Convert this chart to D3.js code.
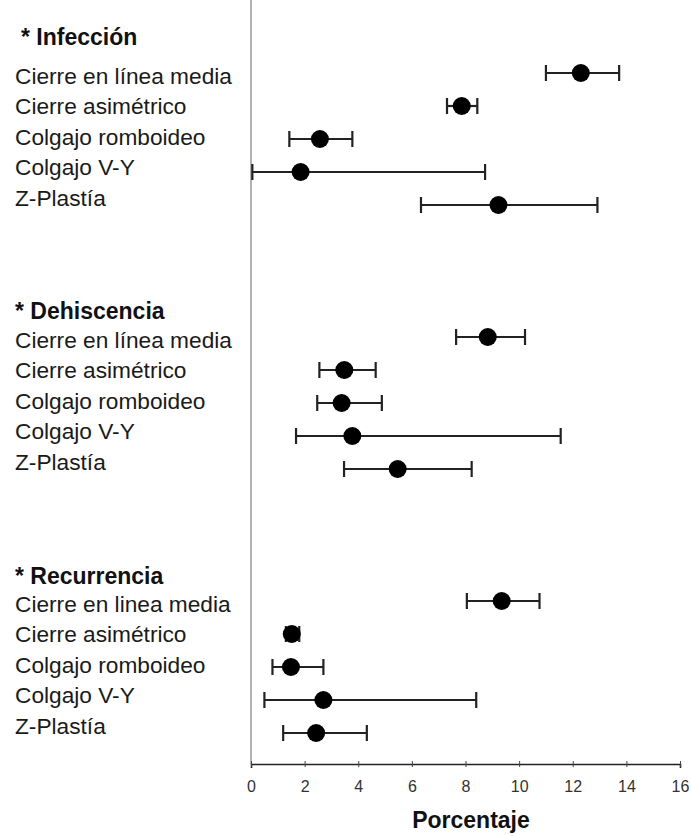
<!DOCTYPE html>
<html><head><meta charset="utf-8">
<script src="https://cdn.jsdelivr.net/npm/d3@7"></script>
<style>body{margin:0;background:#fff}svg{display:block}</style>
</head><body>
<script>
const groups = ["Infección", "Dehiscencia", "Recurrencia"];
const techniques = ["Cierre en línea media", "Cierre asimétrico", "Colgajo romboideo", "Colgajo V-Y", "Z-Plastía"];
const techniquesRec = ["Cierre en linea media", "Cierre asimétrico", "Colgajo romboideo", "Colgajo V-Y", "Z-Plastía"];
// point estimates and interval bounds (percentage)
const infeccionMean = [12.3, 7.86, 2.57, 1.85, 9.23];
const infeccionLow  = [11.0, 7.31, 1.43, 0.05, 6.34];
const infeccionHigh = [13.73, 8.44, 3.78, 8.73, 12.92];
const dehiscMean = [8.83, 3.48, 3.38, 3.78, 5.47];
const dehiscLow  = [7.65, 2.55, 2.47, 1.68, 3.47];
const dehiscHigh = [10.22, 4.65, 4.88, 11.55, 8.23];
const recurMean = [9.35, 1.52, 1.49, 2.7, 2.43];
const recurLow  = [8.05, 1.3, 0.8, 0.5, 1.2];
const recurHigh = [10.76, 1.8, 2.7, 8.4, 4.32];
const xTicks = [0, 2, 4, 6, 8, 10, 12, 14, 16];
const xTitle = "Porcentaje";

const W = 691, H = 836;
const svg = d3.select("body").append("svg").attr("width", W).attr("height", H)
  .style("font-family", "'Liberation Sans', Arial, sans-serif");

const x = d3.scaleLinear().domain([0, 16]).range([251, 680]);
// row index: group g, item i -> g*8 + i
const y = d3.scaleLinear().domain([0, 20]).range([73, 733]);

const series = [
  {name: groups[0], labels: techniques, mean: infeccionMean, lo: infeccionLow, hi: infeccionHigh, titleDy: -36},
  {name: groups[1], labels: techniques, mean: dehiscMean, lo: dehiscLow, hi: dehiscHigh, titleDy: -26},
  {name: groups[2], labels: techniquesRec, mean: recurMean, lo: recurLow, hi: recurHigh, titleDy: -25}
];

// vertical axis line
svg.append("line").attr("x1", x(0)).attr("x2", x(0)).attr("y1", 0).attr("y2", 764)
  .attr("stroke", "#9a9a9a").attr("stroke-width", 1.5);

// x axis
const axis = svg.append("g").attr("transform", "translate(0,764)")
  .call(d3.axisBottom(x).tickValues(xTicks).tickSize(4).tickPadding(13).tickFormat(d3.format("d")));
axis.attr("font-size", null).attr("font-family", null);
axis.select(".domain").attr("stroke", "#222").attr("stroke-width", 1.6);
axis.selectAll(".tick line").attr("y1", -3).attr("y2", 3).attr("stroke", "#444");
axis.selectAll(".tick text").style("font-size", "16px").attr("fill", "#333")
  .style("font-family", "'Liberation Sans', Arial, sans-serif");

svg.append("text").attr("x", 471).attr("y", 828).attr("text-anchor", "middle")
  .attr("font-size", 23).attr("font-weight", "bold").attr("fill", "#111").text(xTitle);

series.forEach((s, g) => {
  const rows = s.mean.map((m, i) => ({m, lo: s.lo[i], hi: s.hi[i], label: s.labels[i], r: g * 8 + i}));
  const mid = y(g * 8 + 2);
  const left = g === 0 ? 21 : 15;
  svg.append("text").attr("x", left).attr("y", y(g * 8) + s.titleDy).attr("dy", "0.35em")
    .attr("font-size", 23).attr("font-weight", "bold").attr("fill", "#111").text("* " + s.name);
  svg.selectAll(null).data(rows).enter().append("text")
    .attr("x", 15).attr("y", (d, i) => mid + (i - 2) * 30.5 - 2).attr("dy", "0.35em")
    .attr("font-size", 22.7).attr("fill", "#1a1a1a").text(d => d.label);
  const gr = svg.selectAll(null).data(rows).enter().append("g");
  gr.append("line").attr("x1", d => x(d.lo)).attr("x2", d => x(d.hi))
    .attr("y1", d => y(d.r)).attr("y2", d => y(d.r)).attr("stroke", "#222").attr("stroke-width", 2.2);
  gr.append("line").attr("x1", d => x(d.lo)).attr("x2", d => x(d.lo))
    .attr("y1", d => y(d.r) - 8).attr("y2", d => y(d.r) + 8).attr("stroke", "#222").attr("stroke-width", 2.2);
  gr.append("line").attr("x1", d => x(d.hi)).attr("x2", d => x(d.hi))
    .attr("y1", d => y(d.r) - 8).attr("y2", d => y(d.r) + 8).attr("stroke", "#222").attr("stroke-width", 2.2);
  gr.append("circle").attr("cx", d => x(d.m)).attr("cy", d => y(d.r)).attr("r", 9).attr("fill", "#000");
});
</script>
</body></html>
